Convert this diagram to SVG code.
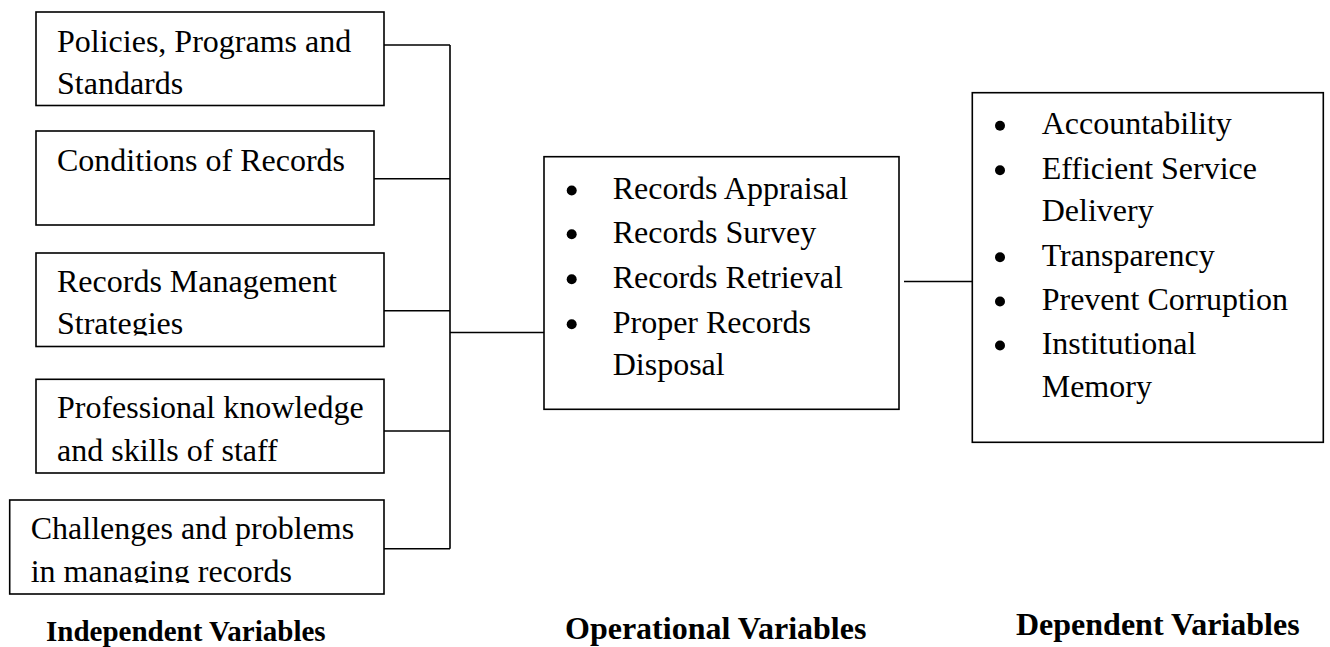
<svg xmlns="http://www.w3.org/2000/svg" width="1330" height="647" viewBox="0 0 1330 647">
<style>
.box{fill:#fff;stroke:#000;stroke-width:1.6}
.t{font-family:"Liberation Serif","Times New Roman",serif;font-size:32px;fill:#000}
.lbl{font-family:"Liberation Serif","Times New Roman",serif;font-weight:bold;fill:#000}
.conn{fill:none;stroke:#000;stroke-width:1.6}
.dot{fill:#000}
</style>
<defs>
<clipPath id="clip3"><rect x="36" y="253" width="348" height="82.5"/></clipPath>
<clipPath id="clip5"><rect x="10" y="500" width="374" height="83"/></clipPath>
</defs>
<rect width="1330" height="647" fill="#fff"/>
<g id="connectors">
<path class="conn" d="M384 45H450M374 178.7H450M384 310.7H450M384 431H450M380 548.7H450M450 45V548.7M450 332.5H544M904 281.5H972.3"/>
</g>
<g id="n1">
<rect class="box" x="36" y="12" width="348" height="93.5"/>
<text class="t" x="57" y="52">Policies, Programs and</text>
<text class="t" x="57" y="94">Standards</text>
</g>
<g id="n2">
<rect class="box" x="36" y="131" width="338" height="94"/>
<text class="t" x="57" y="170.7">Conditions of Records</text>
</g>
<g id="n3">
<rect class="box" x="36" y="253" width="348" height="93.5"/>
<g clip-path="url(#clip3)">
<text class="t" x="57" y="292.3">Records Management</text>
<text class="t" x="57" y="334.3">Strategies</text>
</g>
</g>
<g id="n4">
<rect class="box" x="36" y="379.3" width="348" height="93.7"/>
<text class="t" x="57" y="418.3">Professional knowledge</text>
<text class="t" x="57" y="461">and skills of staff</text>
</g>
<g id="n5">
<rect class="box" x="9.7" y="500" width="374.3" height="94"/>
<g clip-path="url(#clip5)">
<text class="t" x="30.7" y="539.3">Challenges and problems</text>
<text class="t" x="30.7" y="581.5">in managing records</text>
</g>
</g>
<g id="n6">
<rect class="box" x="544" y="156.7" width="355" height="252.6"/>
<circle class="dot" cx="571.7" cy="190.5" r="5"/>
<circle class="dot" cx="571.7" cy="234.2" r="5"/>
<circle class="dot" cx="571.7" cy="279.2" r="5"/>
<circle class="dot" cx="571.7" cy="324.2" r="5"/>
<text class="t" x="612.7" y="199">Records Appraisal</text>
<text class="t" x="612.7" y="242.7">Records Survey</text>
<text class="t" x="612.7" y="287.7">Records Retrieval</text>
<text class="t" x="612.7" y="332.7">Proper Records</text>
<text class="t" x="612.7" y="375">Disposal</text>
</g>
<g id="n7">
<rect class="box" x="972.3" y="92.7" width="351" height="349.6"/>
<circle class="dot" cx="1000" cy="125.8" r="5"/>
<circle class="dot" cx="1000" cy="170.2" r="5"/>
<circle class="dot" cx="1000" cy="257.2" r="5"/>
<circle class="dot" cx="1000" cy="301.5" r="5"/>
<circle class="dot" cx="1000" cy="345.5" r="5"/>
<text class="t" x="1041.7" y="134.3">Accountability</text>
<text class="t" x="1041.7" y="178.7">Efficient Service</text>
<text class="t" x="1041.7" y="221">Delivery</text>
<text class="t" x="1041.7" y="265.7">Transparency</text>
<text class="t" x="1041.7" y="310">Prevent Corruption</text>
<text class="t" x="1041.7" y="354">Institutional</text>
<text class="t" x="1041.7" y="396.7">Memory</text>
</g>
<g id="labels">
<text class="lbl" x="46" y="641" font-size="29">Independent Variables</text>
<text class="lbl" x="565" y="639" font-size="32">Operational Variables</text>
<text class="lbl" x="1016" y="635" font-size="32">Dependent Variables</text>
</g>
</svg>
